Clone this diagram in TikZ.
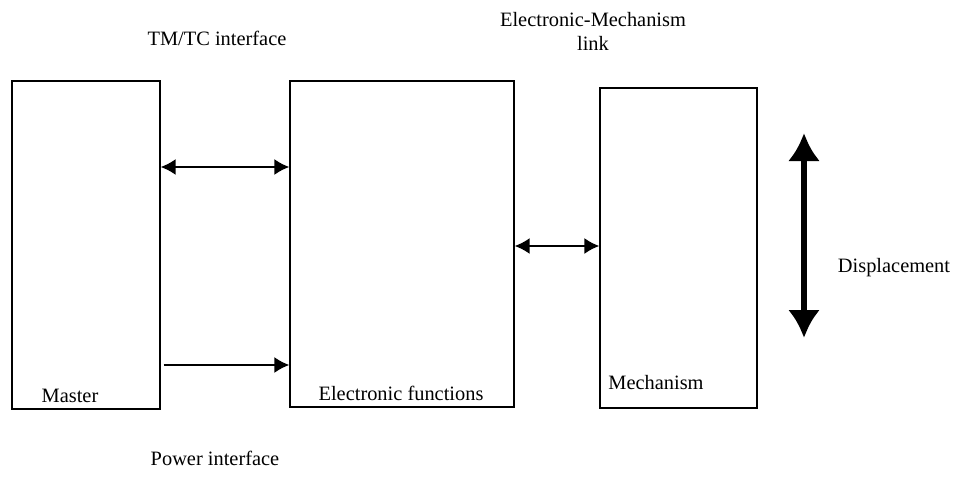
\documentclass[tikz,border=0pt]{standalone}
\usepackage{fontspec}
\setmainfont{Liberation Serif}
\usetikzlibrary{arrows.meta}

\tikzset{
  block/.style={draw, line width=1.4pt, inner sep=0pt},
  lbl/.style={font=\fontsize{20.4}{24}\selectfont, inner sep=0pt},
  link/.style={line width=1.6pt, {Latex[length=15pt,width=16pt]}-{Latex[length=15pt,width=16pt]}},
}

\begin{document}
\begin{tikzpicture}[x=1pt,y=-1pt]
        \useasboundingbox (0,0) rectangle (957,484);

        \node[block, minimum width=148pt, minimum height=328pt] (M) at (86,245) {};
        \node[block, minimum width=224pt, minimum height=326pt] (EF) at (402,244) {};
        \node[block, minimum width=157pt, minimum height=320pt] (Mech) at (678.5,248) {};

        \node[lbl] (Mtxt) at (70,396) {Master};
        \node[lbl] (EFtxt) at (401,393) {Electronic functions};
        \node[lbl] (Mechtxt) at (656,383) {Mechanism};

        \node[lbl] (tmtc) at (217,38) {TM/TC interface};
        \node[lbl, align=center] (eml) at (593,31) {Electronic-Mechanism\\link};
        \node[lbl] (pwr) at (215,458) {Power interface};
        \node[lbl] (disp) at (894,268) {Displacement};

        \coordinate (up) at (804,133);
        \coordinate (down) at (804,338);

        \draw[link] (M.east |- 0,167) -- (EF.west |- 0,167);
        \draw[line width=1.6pt, -{Latex[length=15pt,width=16pt]}] (M.east |- 0,365) ++(3,0) -- (EF.west |- 0,365);
        \draw[link] (EF.east |- 0,246) -- (Mech.west |- 0,246);

        \draw[line width=5.5pt, {Latex[length=28pt,width=32pt]}-{Latex[length=28pt,width=32pt]}] (up) -- (down);
      \end{tikzpicture}
\end{document}
